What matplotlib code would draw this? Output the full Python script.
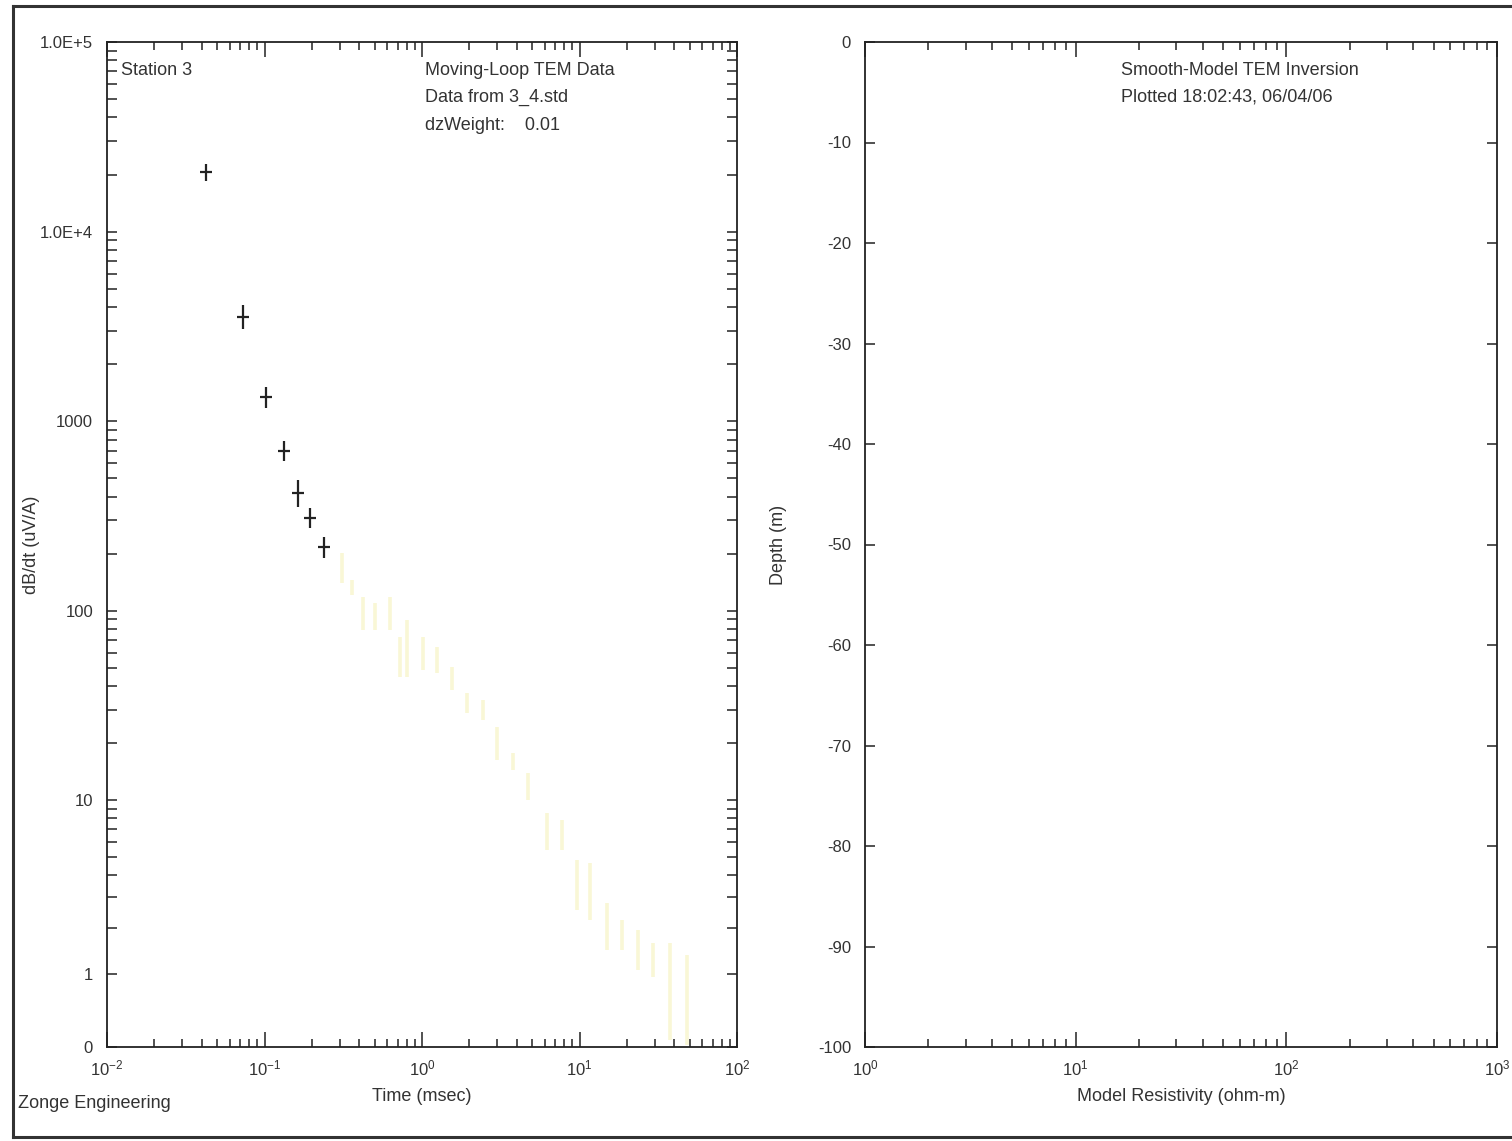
"""
Moving-loop TEM data and smooth-model inversion panels (Station 3)
"""

import numpy as np
import matplotlib
matplotlib.use('Agg')
import matplotlib.pyplot as plt
from matplotlib.lines import Line2D
from matplotlib.ticker import FixedLocator, FixedFormatter, LogLocator, NullFormatter

plt.rcParams['font.family'] = ['Liberation Sans', 'DejaVu Sans']
plt.rcParams['mathtext.fontset'] = 'custom'
plt.rcParams['mathtext.rm'] = 'Liberation Sans'
plt.rcParams['mathtext.it'] = 'Liberation Sans'
plt.rcParams['axes.unicode_minus'] = False

###############################################################################
### Data
### early-time channels (black crosses)
time_blk = [0.0426, 0.0730, 0.102, 0.133, 0.163, 0.195, 0.239]
dbdt_blk = [20500, 3550, 1340, 700, 420, 310, 216]
errlo_blk = [2100, 500, 160, 80, 67, 38, 26]
errhi_blk = [2300, 560, 180, 90, 71, 40, 28]

### late-time channels (faint yellow bars)
time_yel = [0.309, 0.358, 0.424, 0.504, 0.627, 0.725, 0.80, 1.01, 1.24, 1.55,
            1.92, 2.44, 2.98, 3.78, 4.71, 6.19, 7.71, 9.60, 11.7, 14.9,
            18.5, 23.6, 29.4, 37.6, 48.0]
low_yel = [140, 121, 79, 79, 79, 44.7, 44.7, 48.7, 47, 38.2,
           28.9, 26.5, 16.3, 14.5, 10.0, 5.43, 5.43, 2.55, 2.23, 1.47,
           1.47, 1.08, 0.955, 0.085, 0.024]
high_yel = [202, 145, 118, 110, 118, 72.6, 89, 72.6, 64.4, 50.5,
            36.8, 33.8, 24.4, 17.8, 13.9, 8.55, 7.84, 4.79, 4.62, 2.79,
            2.23, 1.95, 1.63, 1.63, 1.36]

### Axis ticks
yticks_tem = [0, 1, 10, 100, 1000, 1e4, 1e5]
ylabels_tem = ['0', '1', '10', '100', '1000', '1.0E+4', '1.0E+5']
xticks_tem = [1e-2, 1e-1, 1e0, 1e1, 1e2]
xlabels_tem = [r'$10^{-2}$', r'$10^{-1}$', r'$10^{0}$', r'$10^{1}$', r'$10^{2}$']
xticks_res = [1e0, 1e1, 1e2, 1e3]
xlabels_res = [r'$10^{0}$', r'$10^{1}$', r'$10^{2}$', r'$10^{3}$']
yticks_dep = list(range(-100, 1, 10))

###############################################################################
### Figure
W, H = 1512, 1141
fig = plt.figure(figsize=(W/100, H/100), dpi=100)
fig.patch.set_facecolor('white')

txtc = '#333333'
axc = '#222222'

def box(x0, x1, y0, y1):
    return [x0/W, 1 - y1/H, (x1 - x0)/W, (y1 - y0)/H]

def style_axes(ax):
    for s in ax.spines.values():
        s.set_color(axc)
        s.set_linewidth(1.3)
    ax.tick_params(which='both', direction='in', top=True, right=True,
                   colors=axc, labelcolor=txtc, labelsize=12, width=1.1)

### Left panel: dB/dt vs time
ax1 = fig.add_axes(box(107, 737, 42, 1047))
ax1.set_xscale('log')
ax1.set_yscale('asinh', linear_width=1)
ax1.set_xlim(1e-2, 1e2)
ax1.set_ylim(0, 1e5)

yel = '#f9f7d6'
ax1.vlines(time_yel, low_yel, high_yel, color=yel, lw=2.6, zorder=2)

errs = [errlo_blk, errhi_blk]
ax1.errorbar(time_blk, dbdt_blk, yerr=errs, fmt='none', ecolor='#222222',
             elinewidth=1.6, capsize=0, zorder=3)
ax1.plot(time_blk, dbdt_blk, ls='none', marker='_', ms=9, mew=1.6,
         color='#222222', zorder=3)

style_axes(ax1)
ax1.yaxis.set_major_locator(FixedLocator(yticks_tem))
ax1.yaxis.set_major_formatter(FixedFormatter(ylabels_tem))
yminor = [m*10.0**d for d in range(0, 5) for m in range(2, 10)]
ax1.yaxis.set_minor_locator(FixedLocator(yminor))
ax1.yaxis.set_minor_formatter(NullFormatter())
ax1.xaxis.set_major_locator(FixedLocator(xticks_tem))
ax1.xaxis.set_major_formatter(FixedFormatter(xlabels_tem))
ax1.xaxis.set_minor_locator(LogLocator(base=10, subs=np.arange(2, 10), numticks=20))
ax1.xaxis.set_minor_formatter(NullFormatter())
ax1.tick_params(axis='y', which='both', length=7, pad=10)
ax1.tick_params(axis='x', which='major', length=11, pad=8)
ax1.tick_params(axis='x', which='minor', length=6)
ax1.set_xlabel('Time (msec)', fontsize=13, color=txtc, labelpad=7)
ax1.set_ylabel('dB/dt (uV/A)', fontsize=13, color=txtc)
ax1.yaxis.set_label_coords(-0.106, 0.5)

ax1.text(0.022, 0.972, 'Station 3', transform=ax1.transAxes, fontsize=13,
         color=txtc, ha='left', va='center')
ax1.text(0.505, 0.972, 'Moving-Loop TEM Data', transform=ax1.transAxes,
         fontsize=13, color=txtc, ha='left', va='center')
ax1.text(0.505, 0.945, 'Data from 3_4.std', transform=ax1.transAxes,
         fontsize=13, color=txtc, ha='left', va='center')
ax1.text(0.505, 0.917, 'dzWeight:    0.01', transform=ax1.transAxes,
         fontsize=13, color=txtc, ha='left', va='center')

### Right panel: resistivity vs depth (empty model)
ax2 = fig.add_axes(box(865, 1497, 42, 1047))
ax2.set_xscale('log')
ax2.set_xlim(1e0, 1e3)
ax2.set_ylim(-100, 0)
style_axes(ax2)
ax2.yaxis.set_major_locator(FixedLocator(yticks_dep))
ax2.xaxis.set_major_locator(FixedLocator(xticks_res))
ax2.xaxis.set_major_formatter(FixedFormatter(xlabels_res))
ax2.xaxis.set_minor_locator(LogLocator(base=10, subs=np.arange(2, 10), numticks=20))
ax2.xaxis.set_minor_formatter(NullFormatter())
ax2.tick_params(axis='y', which='major', length=7, pad=10)
ax2.tick_params(axis='x', which='major', length=11, pad=8)
ax2.tick_params(axis='x', which='minor', length=6)
ax2.set_xlabel('Model Resistivity (ohm-m)', fontsize=13, color=txtc, labelpad=7)
ax2.set_ylabel('Depth (m)', fontsize=13, color=txtc)
ax2.yaxis.set_label_coords(-0.123, 0.5)

ax2.text(0.405, 0.972, 'Smooth-Model TEM Inversion', transform=ax2.transAxes,
         fontsize=13, color=txtc, ha='left', va='center')
ax2.text(0.405, 0.945, 'Plotted 18:02:43, 06/04/06', transform=ax2.transAxes,
         fontsize=13, color=txtc, ha='left', va='center')

### Footer and page frame
fig.text(18/W, 1 - 1104/H, 'Zonge Engineering', fontsize=13, color=txtc,
         ha='left', va='center')
fx0, fy0, fy1 = 13/W, 1 - 1137/H, 1 - 6/H
for xs, ys in [([fx0, 1.0], [fy1, fy1]), ([fx0, 1.0], [fy0, fy0]), ([fx0, fx0], [fy0, fy1])]:
    fig.add_artist(Line2D(xs, ys, transform=fig.transFigure, color='#333333', lw=2.2))

plt.savefig('out.png', dpi=100)
